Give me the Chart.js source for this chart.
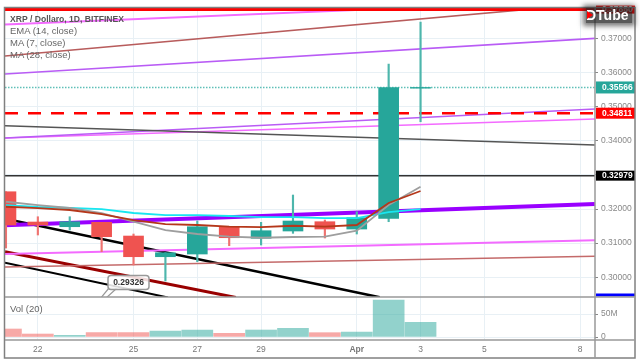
<!DOCTYPE html>
<html>
<head>
<meta charset="utf-8">
<style>
  html, body { margin: 0; padding: 0; background: #fff; }
  #wrap { position: relative; width: 640px; height: 360px; overflow: hidden; }
  canvas { position: absolute; left: 0; top: 0; }
  .leg { position: absolute; left: 10px; font: 9.5px "Liberation Sans", Arial, sans-serif; color: #666; white-space: nowrap; }
  #title { top: 14px; font-weight: bold; font-size: 8.6px; color: #555; }
  #logo { position: absolute; left: 586px; top: 8px; width: 46px; height: 15px; background: rgba(35,35,35,.75); box-shadow: 0 0 5px 3px rgba(30,30,30,.6);
          font: bold 14px/15px "Liberation Sans", Arial, sans-serif; color: #fff; white-space: nowrap; }
  #tri { position: absolute; left: 1px; top: 3px; width: 0; height: 0; border-left: 6px solid #f00; border-top: 4.5px solid transparent; border-bottom: 4.5px solid transparent; }
</style>
</head>
<body>
<div id="wrap">
  <canvas id="chart" width="640" height="360"></canvas>
  <div class="leg" id="title">XRP / Dollaro, 1D, BITFINEX</div>
  <div class="leg" style="top:25px">EMA (14, close)</div>
  <div class="leg" style="top:37px">MA (7, close)</div>
  <div class="leg" style="top:49px">MA (28, close)</div>
  <div class="leg" style="top:303px">Vol (20)</div>
  <div id="logo">DTube<div id="tri"></div></div>
</div>
<script src="https://cdn.jsdelivr.net/npm/chart.js@4"></script>
<script>
// days counted from 22 March
const days = [-1, 0, 1, 2, 3, 4, 5, 6, 7, 8, 9, 10, 11, 12];
const opens = [0.32507, 0.31619, 0.31481, 0.31610, 0.31208, 0.30601, 0.30680, 0.31481, 0.31141, 0.31355, 0.31628, 0.31413, 0.31727, 0.35545];
const closes = [0.31531, 0.31531, 0.31628, 0.31188, 0.30601, 0.30718, 0.31481, 0.31158, 0.31364, 0.31648, 0.31413, 0.31745, 0.35566, 0.35566];
const highs = [0.32507, 0.31774, 0.31774, 0.31610, 0.31267, 0.30718, 0.31648, 0.31481, 0.31610, 0.32411, 0.31677, 0.31921, 0.36252, 0.37484];
const lows = [0.30856, 0.31238, 0.31384, 0.30748, 0.30358, 0.29889, 0.30455, 0.30924, 0.30944, 0.31287, 0.31150, 0.31267, 0.31628, 0.34560];
const volumes = [17.4e6, 6.5e6, 3.7e6, 9.4e6, 9.4e6, 13e6, 15.2e6, 8e6, 15.2e6, 18.9e6, 9.4e6, 10.9e6, 80.4e6, 32e6];

const ema14 = [0.32117, 0.32059, 0.32030, 0.32000, 0.31883, 0.31824, 0.31824, 0.31795, 0.31765, 0.31765, 0.31736, 0.31736, 0.31912, 0.32000];
const ma7 = [0.32067, 0.32029, 0.31971, 0.31853, 0.31677, 0.31560, 0.31531, 0.31481, 0.31472, 0.31510, 0.31481, 0.31531, 0.32176, 0.32528];
const ma28 = [0.32214, 0.32117, 0.32030, 0.31883, 0.31628, 0.31384, 0.31267, 0.31188, 0.31158, 0.31179, 0.31188, 0.31364, 0.32117, 0.32654];

const dayTicks = [0, 3, 5, 7, 10, 12, 14, 17];
const dayLabels = ['22', '25', '27', '29', 'Apr', '3', '5', '8'];
const priceTicks = [0.30, 0.31, 0.32, 0.33, 0.34, 0.35, 0.36, 0.37];
const volTicks = [0, 50e6];

// drawn trend lines, [day, price] end points
const lineTopPink = [[-1.03, 0.37411], [12.23, 0.37924]];
const lineTopBrown = [[-1.03, 0.36487], [16.05, 0.37915]];
const lineUpperPurple = [[-1.03, 0.35959], [17.47, 0.37006]];
const lineGrey = [[-1.03, 0.34443], [17.47, 0.33877]];
const lineMidPurple = [[-1.03, 0.34082], [17.47, 0.34933]];
const lineMidPink = [[-1.03, 0.34082], [17.47, 0.34639]];
const lineThickPurple = [[-1.03, 0.31522], [17.47, 0.32147]];
const lineLowPink = [[-1.03, 0.30680], [17.47, 0.31082]];
const lineLowBrown = [[-1.03, 0.30299], [17.47, 0.30613]];
const lineBlack1 = [[-1.03, 0.31716], [10.72, 0.29411]];
const lineDarkRed = [[-1.03, 0.30748], [6.21, 0.29405]];
const lineBlack2 = [[-1.03, 0.30425], [4.08, 0.29405]];

const levelTop = 0.37850;
const levelLast = 0.35566;
const levelRed = 0.34811;
const levelBlack = 0.32979;
const levelBlue = 0.29478;
const calloutText = '0.29326';

const RED = '#ef5350';
const GREEN = '#26a69a';
const isUp = days.map((d, i) => closes[i] >= opens[i]);

function pts(line) {
    return line.map(p => ({ x: p[0], y: p[1] }));
}
function series(vals) {
    return days.map((d, i) => ({ x: d, y: vals[i] }));
}
function level(v) {
    return pts([[-1.03, v], [17.47, v]]);
}
function trend(data, color, width, dash, order) {
    return {
        type: 'line', data: data, borderColor: color, borderWidth: width, borderDash: dash || [],
        pointRadius: 0, yAxisID: 'y', order: order === undefined ? 5 : order, tension: 0
    };
}

// tags on the price axis, frame and the price callout
const overlay = {
    id: 'overlay',
    afterDatasetsDraw(chart) {
        const c = chart.ctx;
        // callout
        c.save();
        c.beginPath();
        c.rect(5, 8, 590, 289);
        c.clip();
        c.strokeStyle = '#999';
        c.lineWidth = 1.2;
        c.fillStyle = '#fff';
        c.beginPath();
        c.moveTo(109, 288); c.lineTo(100, 299); c.lineTo(105, 299); c.lineTo(117, 288);
        c.closePath(); c.fill(); c.stroke();
        c.lineWidth = 1.5;
        c.globalAlpha = 0.85;
        c.beginPath();
        c.roundRect(108, 275.5, 41, 14, 3);
        c.fill();
        c.globalAlpha = 1;
        c.stroke();
        c.fillStyle = '#333';
        c.font = 'bold 8.5px "Liberation Sans", Arial, sans-serif';
        c.textAlign = 'center';
        c.textBaseline = 'middle';
        c.fillText(calloutText, 128.5, 282.5);
        c.restore();
    },
    afterDraw(chart) {
        const c = chart.ctx;
        const y = chart.scales.y;
        c.save();
        // tags
        const tags = [[levelTop, '#f00', 8], [levelLast, GREEN, 12], [levelRed, '#f00', 11], [levelBlack, '#000', 10], [levelBlue, '#00f', 3]];
        tags.forEach(t => {
            const py = y.getPixelForValue(t[0]);
            c.fillStyle = t[1];
            c.fillRect(596, py - t[2] / 2, 39, t[2]);
            if (t[2] > 3) {
                c.fillStyle = '#fff';
                c.font = 'bold 8.5px "Liberation Sans", Arial, sans-serif';
                c.textAlign = 'left';
                c.textBaseline = 'middle';
                c.fillText(t[0].toFixed(5), 602, py + 0.5);
            }
        });
        // frame and pane separators
        c.strokeStyle = '#808080';
        c.lineWidth = 1.5;
        c.strokeRect(4.5, 7.5, 630.5, 350.5);
        c.strokeStyle = '#999';
        c.beginPath();
        c.moveTo(5, 297); c.lineTo(635, 297);
        c.moveTo(5, 340); c.lineTo(635, 340);
        c.moveTo(595, 8); c.lineTo(595, 358);
        c.stroke();
        c.restore();
    }
};

const tickFont = { family: '"Liberation Sans", Arial, sans-serif', size: 8.5 };

new Chart(document.getElementById('chart'), {
    data: {
        datasets: [
            trend(series(ema14), '#19e6f0', 1.8, null, 1),
            trend(series(ma7), '#b5371a', 1.8, null, 0),
            trend(series(ma28), '#9e9e9e', 1.8, null, 0.5),
            {
                type: 'bar', data: days.map((d, i) => ({ x: d, y: [opens[i], closes[i]] })),
                backgroundColor: isUp.map(u => u ? GREEN : RED), barThickness: 20, grouped: false, yAxisID: 'y', order: 2
            },
            {
                type: 'bar', data: days.map((d, i) => ({ x: d, y: [lows[i], highs[i]] })),
                backgroundColor: isUp.map(u => u ? '#4db6ac' : '#ef7370'), barThickness: 1.5, grouped: false, yAxisID: 'y', order: 3
            },
            {
                type: 'bar', data: days.map((d, i) => ({ x: d, y: volumes[i] })),
                backgroundColor: isUp.map(u => u ? 'rgba(38,166,154,.5)' : 'rgba(239,83,80,.5)'),
                barThickness: 31, grouped: false, yAxisID: 'v', order: 4
            },
            trend(level(levelTop), '#f00', 3),
            trend(level(levelLast), '#5fc0b8', 1.5, [1.5, 1.5]),
            trend(level(levelRed), '#f00', 2.5, [13, 10]),
            trend(level(levelBlack), '#333', 1.5),
            trend(pts(lineTopPink), '#f36bff', 2),
            trend(pts(lineTopBrown), '#b85c5c', 1.5),
            trend(pts(lineUpperPurple), '#b95cf5', 1.6),
            trend(pts(lineGrey), '#555', 1.5),
            trend(pts(lineMidPurple), '#b95cf5', 1.5),
            trend(pts(lineMidPink), '#f36bff', 1.6),
            trend(pts(lineThickPurple), '#9900ff', 4),
            trend(pts(lineLowPink), '#f36bff', 2),
            trend(pts(lineLowBrown), '#c46a6a', 1.5),
            trend(pts(lineBlack1), '#000', 2.5),
            trend(pts(lineDarkRed), '#990000', 3),
            trend(pts(lineBlack2), '#000', 2)
        ]
    },
    options: {
        responsive: false,
        animation: false,
        layout: { padding: { left: 5, top: 8, right: 5, bottom: 2 } },
        plugins: { legend: { display: false }, tooltip: { enabled: false } },
        scales: {
            x: {
                type: 'linear', min: -1.03, max: 17.47, offset: false,
                afterBuildTicks: s => { s.ticks = dayTicks.map(v => ({ value: v })); },
                afterFit: s => { s.height = 18; },
                grid: { color: '#e8f0f5', drawTicks: false, offset: false },
                border: { display: false },
                ticks: {
                    autoSkip: false, maxRotation: 0, padding: 5, color: '#777',
                    font: ctx => ({ ...tickFont, weight: ctx.tick && ctx.tick.value === 10 ? 'bold' : 'normal' }),
                    callback: v => dayLabels[dayTicks.indexOf(v)]
                }
            },
            y: {
                type: 'linear', position: 'right', stack: 'panes', stackWeight: 289, min: 0.29419, max: 0.37894,
                afterBuildTicks: s => { s.ticks = priceTicks.map(v => ({ value: v })); },
                afterFit: s => { s.width = 40; },
                grid: { color: '#e8f0f5', tickColor: '#888', tickLength: 3 },
                border: { display: false },
                ticks: { color: '#888', font: tickFont, padding: 3, autoSkip: false, callback: v => v.toFixed(5) }
            },
            v: {
                type: 'linear', position: 'right', stack: 'panes', stackWeight: 43, min: -6.5e6, max: 87e6,
                afterBuildTicks: s => { s.ticks = volTicks.map(v => ({ value: v })); },
                afterFit: s => { s.width = 40; },
                grid: { color: '#e8f0f5', tickColor: '#888', tickLength: 3 },
                border: { display: false },
                ticks: { color: '#888', font: tickFont, padding: 3, autoSkip: false, callback: v => v === 0 ? '0' : (v / 1e6) + 'M' }
            }
        }
    },
    plugins: [overlay]
});
</script>
</body>
</html>
